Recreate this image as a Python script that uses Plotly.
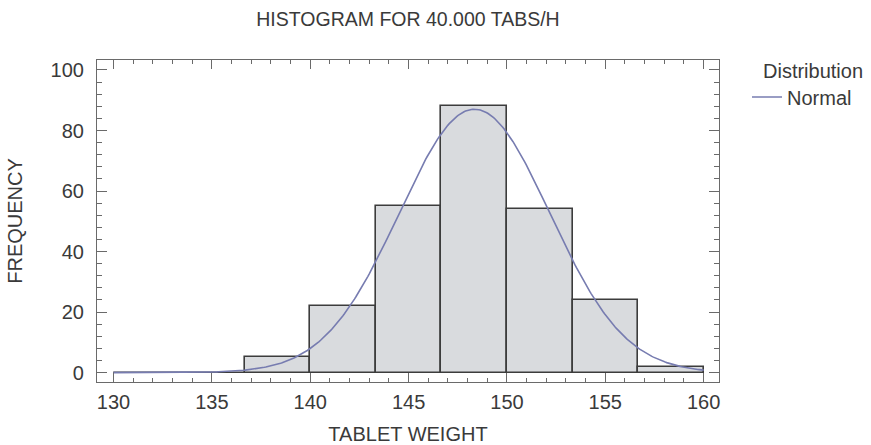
import numpy as np
import plotly.graph_objects as go

# ---- data ----
bin_lower_edges = [130.0, 133.333, 136.667, 140.0, 143.333, 146.667, 150.0, 153.333, 156.667]
bin_width = 10.0 / 3.0
frequencies = [0, 0, 5, 22, 55, 88, 54, 24, 2]

# fitted normal distribution parameters
normal_mean = 148.35
normal_sd = 3.82
normal_n = sum(frequencies)
curve_range = [130.0, 160.0]

x_ticks = [130, 135, 140, 145, 150, 155, 160]
y_ticks = [0, 20, 40, 60, 80, 100]

title_text = "HISTOGRAM FOR 40.000 TABS/H"
x_title = "TABLET WEIGHT"
y_title = "FREQUENCY"

# ---- build ----
centers = [e + bin_width / 2 for e in bin_lower_edges]
xs = np.linspace(curve_range[0], curve_range[1], 400)
ys = normal_n * bin_width / (normal_sd * np.sqrt(2 * np.pi)) * np.exp(-0.5 * ((xs - normal_mean) / normal_sd) ** 2)

FONT = "Liberation Sans, Arial, sans-serif"
TXT = "#3a3a3a"
AX = "#6a6a6a"

fig = go.Figure()
fig.add_trace(go.Bar(
    x=centers, y=frequencies, width=bin_width,
    marker=dict(color="#d9dbde", line=dict(color="#3c3c3c", width=1.6)),
    showlegend=False, hoverinfo="x+y",
))
fig.add_trace(go.Scatter(
    x=xs, y=ys, mode="lines", name="Normal",
    line=dict(color="#777cb0", width=1.6),
))

fig.update_layout(
    width=871, height=445,
    margin=dict(l=97, r=152, t=60, b=63),
    paper_bgcolor="white", plot_bgcolor="white",
    font=dict(family=FONT, size=20, color=TXT),
    title=dict(text=title_text, x=(97 + 719) / 2 / 871, xanchor="center",
               y=1 - 19 / 445, yanchor="middle",
               font=dict(size=19.5, color=TXT)),
    bargap=0,
    legend=dict(x=1.045, xanchor="left", y=1 - (97 - 60) / 322, yanchor="middle",
                font=dict(size=20, color=TXT), bgcolor="rgba(0,0,0,0)"),
    annotations=[dict(text="Distribution", xref="paper", yref="paper",
                      x=1.0 + (761 - 719) / 622, xanchor="left",
                      y=1 - (71 - 60) / 322, yanchor="middle",
                      showarrow=False, font=dict(size=20, color=TXT))],
)

fig.update_xaxes(
    range=[129.16, 160.78], tickvals=x_ticks, ticktext=[str(v) for v in x_ticks],
    showgrid=False, zeroline=False, showline=True, linecolor=AX, linewidth=1.2,
    mirror="allticks", ticks="inside", ticklen=9, tickcolor=AX, tickwidth=1,
    minor=dict(ticks="inside", dtick=1, ticklen=4, tickcolor=AX, tickwidth=1),
    ticklabelstandoff=2, automargin=False,
    title=dict(text=x_title, standoff=18, font=dict(size=20, color=TXT)),
    tickfont=dict(size=20, color=TXT),
)
fig.update_yaxes(
    range=[-3.1, 103.3], tickvals=y_ticks, ticktext=[str(v) for v in y_ticks],
    showgrid=False, zeroline=False, showline=True, linecolor=AX, linewidth=1.2,
    mirror="allticks", ticks="inside", ticklen=10, tickcolor=AX, tickwidth=1,
    minor=dict(ticks="inside", dtick=4, ticklen=5, tickcolor=AX, tickwidth=1),
    ticklabelstandoff=8, automargin=False,
    title=dict(text=y_title, standoff=22, font=dict(size=20, color=TXT)),
    tickfont=dict(size=20, color=TXT),
)

fig.write_html("out.html")
